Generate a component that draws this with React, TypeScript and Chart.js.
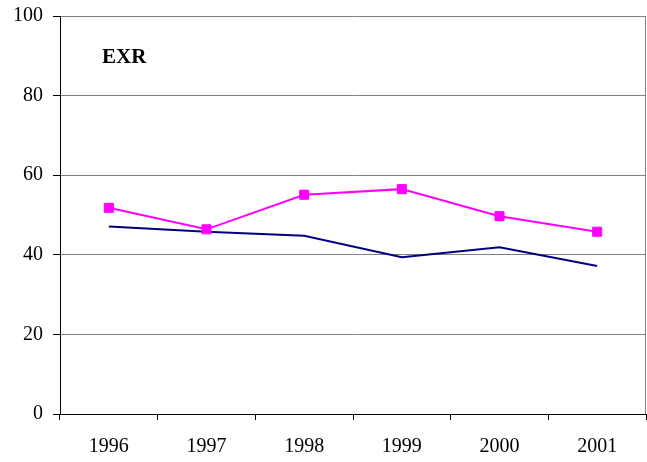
import React, { useEffect, useRef } from "react";
import { Chart, registerables } from "chart.js";

Chart.register(...registerables);

const categories = ["1996", "1997", "1998", "1999", "2000", "2001"];
const pinkSeries = [51.8, 46.4, 55.1, 56.5, 49.7, 45.8];
const navySeries = [47.1, 45.8, 44.8, 39.4, 41.9, 37.2];
const yTicks = [0, 20, 40, 60, 80, 100];
const chartLabel = "EXR";

const FONT = "'Liberation Serif', 'Times New Roman', serif";

const labelPlugin = {
  id: "exrLabel",
  afterDraw(chart: any) {
    const { ctx, chartArea } = chart;
    ctx.save();
    // right frame line
    ctx.strokeStyle = "#808080";
    ctx.lineWidth = 1;
    ctx.beginPath();
    ctx.moveTo(Math.round(chartArea.right) - 0.5, chartArea.top);
    ctx.lineTo(Math.round(chartArea.right) - 0.5, chartArea.bottom);
    ctx.stroke();
    // label
    ctx.fillStyle = "#000";
    ctx.font = `bold 21px ${FONT}`;
    ctx.textBaseline = "alphabetic";
    ctx.textAlign = "left";
    ctx.fillText(chartLabel, chartArea.left + 42, chartArea.top + 47);
    ctx.restore();
  },
};

export default function App() {
  const ref = useRef<HTMLCanvasElement | null>(null);
  useEffect(() => {
    if (!ref.current) return;
    const chart = new Chart(ref.current, {
      type: "line",
      data: {
        labels: categories,
        datasets: [
          {
            data: pinkSeries,
            borderColor: "#FF00FF",
            backgroundColor: "#FF00FF",
            borderWidth: 2,
            pointStyle: "rect",
            pointRadius: 6.4,
            pointHoverRadius: 6.4,
            pointBorderWidth: 1,
            tension: 0,
          },
          {
            data: navySeries,
            borderColor: "#000080",
            backgroundColor: "#000080",
            borderWidth: 2,
            pointRadius: 0,
            tension: 0,
          },
        ],
      },
      options: {
        animation: false,
        responsive: false,
        maintainAspectRatio: false,
        layout: { autoPadding: false, padding: { top: 16, right: 1, left: 0, bottom: 0 } },
        plugins: {
          legend: { display: false },
          tooltip: { enabled: false },
          title: { display: false },
        },
        scales: {
          x: {
            type: "category",
            offset: true,
            grid: {
              offset: true,
              drawOnChartArea: false,
              drawTicks: true,
              tickLength: 6,
              tickColor: "#000",
              color: "#000",
            },
            border: { color: "#000", width: 1 },
            ticks: {
              color: "#000",
              font: { family: FONT, size: 20 },
              padding: 15,
              maxRotation: 0,
              autoSkip: false,
            },
            afterFit: (scale: any) => {
              scale.height = 48;
              scale.paddingLeft = 0;
              scale.paddingRight = 0;
            },
          },
          y: {
            min: 0,
            max: 100,
            afterBuildTicks: (scale: any) => {
              scale.ticks = yTicks.map((v) => ({ value: v }));
            },
            grid: {
              color: "#808080",
              tickColor: "#000",
              tickLength: 7,
              drawTicks: true,
            },
            border: { color: "#000", width: 1 },
            ticks: {
              color: "#000",
              font: { family: FONT, size: 20 },
              padding: 10,
            },
            afterFit: (scale: any) => {
              scale.width = 60;
              scale.paddingTop = 0;
              scale.paddingBottom = 0;
            },
          },
        },
      },
      plugins: [labelPlugin],
    });
    return () => chart.destroy();
  }, []);
  return (
    <div style={{ position: "absolute", left: 0, top: 0, width: 647, height: 462, background: "#fff" }}>
      <canvas ref={ref} width={647} height={462} style={{ display: "block" }} />
    </div>
  );
}
